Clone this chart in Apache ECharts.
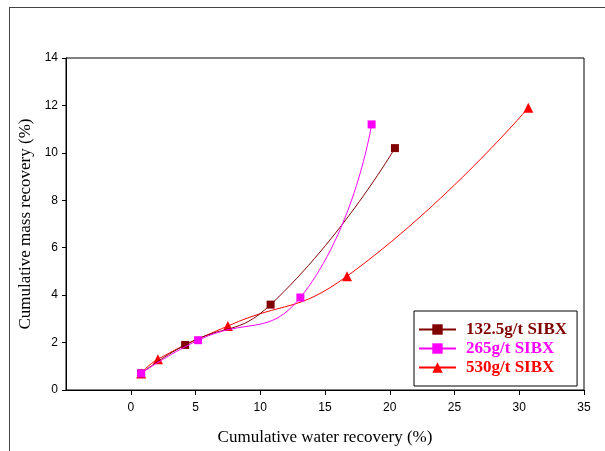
<!DOCTYPE html>
<html>
<head>
<meta charset="utf-8">
<script src="https://cdn.jsdelivr.net/npm/echarts@6/dist/echarts.min.js"></script>
<style>
  html, body { margin: 0; padding: 0; background: #fff; }
  #chart { width: 605px; height: 451px; }
</style>
</head>
<body>
<div id="chart"></div>
<script>
// data (water recovery %, mass recovery %)
var names = ['132.5g/t SIBX', '265g/t SIBX', '530g/t SIBX'];
var colors = ['#800000', '#ff00ff', '#ff0000'];
var water132 = [0.8, 4.2, 10.8, 20.4];
var mass132 = [0.7, 1.9, 3.6, 10.2];
var water265 = [0.8, 5.2, 13.1, 18.6];
var mass265 = [0.7, 2.1, 3.9, 11.2];
var water530 = [0.8, 2.1, 7.5, 16.7, 30.7];
var mass530 = [0.7, 1.3, 2.7, 4.8, 11.9];
var xTicks = [0, 5, 10, 15, 20, 25, 30, 35];

function pairs(xs, ys) {
  return xs.map(function (x, i) { return [x, ys[i]]; });
}

var chart = echarts.init(document.getElementById('chart'));

function mkSeries(i, xs, ys, symbol, size, z) {
  return {
    name: names[i],
    type: 'line',
    data: pairs(xs, ys),
    smooth: true,
    symbol: symbol,
    symbolSize: size,
    z: z,
    lineStyle: { color: colors[i], width: 1 },
    itemStyle: { color: colors[i] }
  };
}

var legendText = function (c) {
  return { color: c, fontFamily: 'Liberation Serif', fontWeight: 'bold', fontSize: 17, lineHeight: 16, padding: [0, 0, 0, 5] };
};

chart.setOption({
  animation: false,
  grid: { left: 66, right: 21, top: 58, bottom: 61, show: true, borderColor: '#000', borderWidth: 1 },
  graphic: [
    { type: 'line', shape: { x1: 9, y1: 7.5, x2: 605, y2: 7.5 }, style: { stroke: '#444', lineWidth: 1 } },
    { type: 'line', shape: { x1: 9.5, y1: 7, x2: 9.5, y2: 451 }, style: { stroke: '#444', lineWidth: 1 } }
  ],
  legend: {
    data: names,
    orient: 'vertical',
    left: 414,
    top: 311,
    padding: [10, 10, 10, 4],
    itemGap: 2,
    itemWidth: 37,
    itemHeight: 13,
    borderColor: '#000',
    borderWidth: 1,
    formatter: function (n) { return '{c' + names.indexOf(n) + '|' + n + '}'; },
    textStyle: {
      fontFamily: 'Liberation Serif', fontWeight: 'bold', fontSize: 17, lineHeight: 16,
      rich: { c0: legendText(colors[0]), c1: legendText(colors[1]), c2: legendText(colors[2]) }
    }
  },
  xAxis: {
    type: 'value',
    min: -5,
    max: 35,
    interval: 5,
    name: 'Cumulative water recovery (%)',
    nameLocation: 'middle',
    nameGap: 39,
    nameTextStyle: { fontFamily: 'Liberation Serif', fontSize: 17, color: '#000' },
    axisLine: { lineStyle: { color: '#000' } },
    axisTick: { customValues: xTicks, length: 5, lineStyle: { color: '#000' } },
    axisLabel: { customValues: xTicks, fontFamily: 'Liberation Sans', fontSize: 12, color: '#000', margin: 12 },
    splitLine: { show: false }
  },
  yAxis: {
    type: 'value',
    min: 0,
    max: 14,
    interval: 2,
    name: 'Cumulative mass recovery (%)',
    nameLocation: 'middle',
    nameGap: 32,
    nameTextStyle: { fontFamily: 'Liberation Serif', fontSize: 17, color: '#000' },
    axisLine: { show: true, onZero: false, lineStyle: { color: '#000' } },
    axisTick: { show: true, length: 4, lineStyle: { color: '#000' } },
    axisLabel: { fontFamily: 'Liberation Sans', fontSize: 12, color: '#000', margin: 8 },
    splitLine: { show: false }
  },
  series: [
    mkSeries(0, water132, mass132, 'rect', 8, 3),
    mkSeries(1, water265, mass265, 'rect', 8, 4),
    mkSeries(2, water530, mass530, 'triangle', 10, 2)
  ]
});
</script>
</body>
</html>
